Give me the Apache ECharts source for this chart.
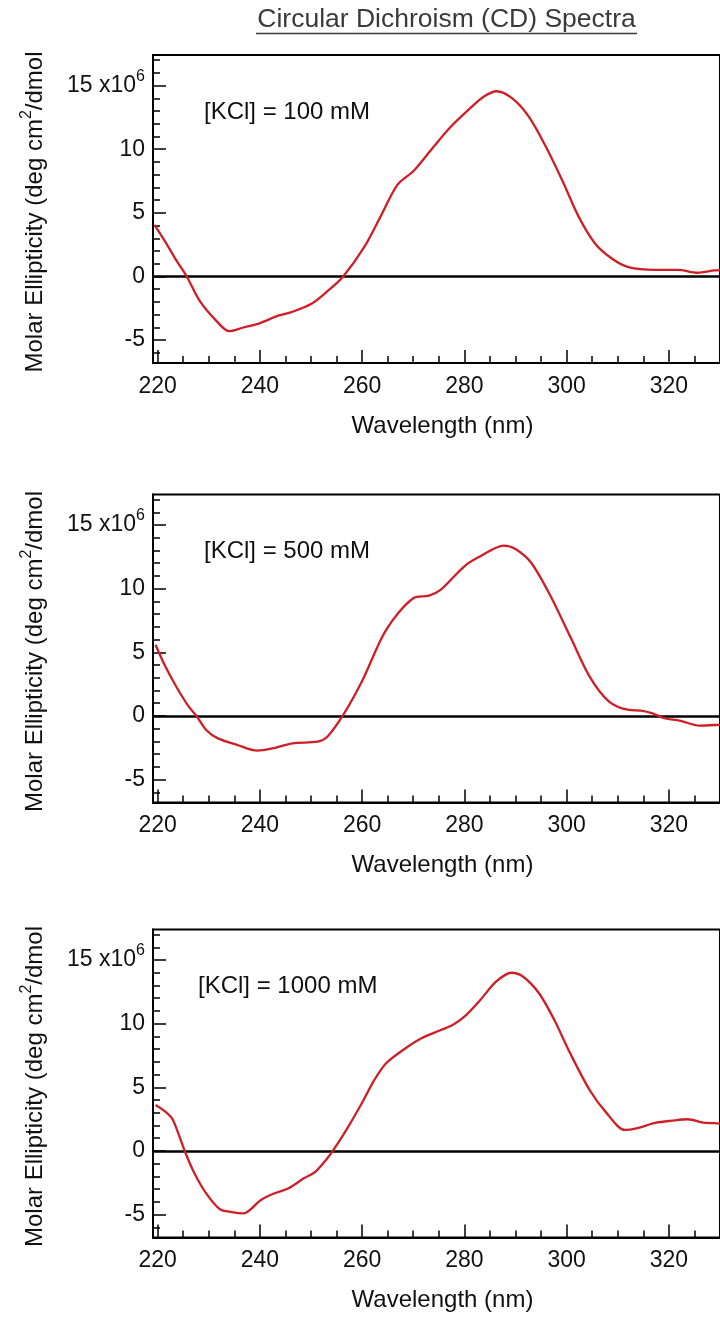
<!DOCTYPE html>
<html>
<head>
<meta charset="utf-8">
<script src="https://cdn.jsdelivr.net/npm/echarts@6/dist/echarts.min.js"></script>
<style>
html,body{margin:0;padding:0;background:#fff;}
#c{width:720px;height:1317px;}
</style>
</head>
<body>
<div id="c"></div>
<script>
// ---------- data ----------
const panelLabels = ['[KCl] = 100 mM', '[KCl] = 500 mM', '[KCl] = 1000 mM'];

const wl1 = [219.4,221.7,223.6,225.7,228.2,231.4,234.0,236.6,239.8,243.7,246.2,250.1,253.4,256.3,260.4,263.6,266.9,270.1,273.4,277.2,281.1,283.7,286.3,289.5,292.7,296.0,299.2,302.4,305.6,308.9,312.1,317.3,321.8,325.6,328.9,330.0];
const cd1 = [4.06,2.6,1.3,0.0,-1.9,-3.45,-4.3,-4.03,-3.7,-3.06,-2.8,-2.15,-1.1,0.0,2.3,4.7,7.2,8.3,9.9,11.7,13.2,14.1,14.55,13.95,12.5,10.15,7.5,4.66,2.57,1.39,0.73,0.52,0.52,0.29,0.47,0.5];

const wl2 = [219.6,221.5,223.8,226.1,227.6,229.5,231.8,235.6,239.5,242.5,246.4,251.3,253.2,256.3,260.1,264.7,270.1,273.1,275.4,280.0,283.1,287.7,290.0,293.1,296.9,300.7,304.5,308.3,312.2,314.5,316.8,319.1,322.1,326.0,328.9,330.0];
const cd2 = [5.6,3.9,2.2,0.73,0.0,-1.1,-1.76,-2.28,-2.73,-2.55,-2.15,-2.02,-1.63,0.08,2.83,6.77,9.27,9.45,9.92,11.76,12.54,13.39,13.12,12.02,9.39,6.24,3.09,1.13,0.47,0.42,0.21,-0.18,-0.37,-0.76,-0.71,-0.7];

const wl3 = [219.6,221.5,223.0,225.3,227.2,229.5,232.2,234.5,236.8,240.2,242.5,245.6,248.6,250.9,253.2,254.4,257.1,260.1,262.4,264.7,268.5,271.6,275.4,277.7,280.0,283.1,286.2,289.2,291.5,294.6,297.6,300.7,304.5,307.6,311.4,313.7,317.5,320.6,323.7,326.7,328.9,330.0];
const cd3 = [3.61,3.09,2.44,0.0,-1.75,-3.33,-4.58,-4.8,-4.9,-3.85,-3.38,-2.93,-2.15,-1.62,-0.57,0.08,1.78,3.87,5.58,6.89,8.07,8.85,9.5,9.9,10.55,11.86,13.3,14.0,13.69,12.39,10.29,7.67,4.79,3.09,1.65,1.78,2.22,2.38,2.49,2.22,2.18,2.15];

const xMajorTicks = [220,240,260,280,300,320];
const xMinorTicks = [220,225,230,235,240,245,250,255,260,265,270,275,280,285,290,295,300,305,310,315,320,325,330];
const yMajorTicks = [-5,0,5,10,15];
const yMinorTicks = [-6,-5,-4,-3,-2,-1,0,1,2,3,4,5,6,7,8,9,10,11,12,13,14,15,16,17];

const series = [[wl1,cd1],[wl2,cd2],[wl3,cd3]];

// ---------- layout ----------
const X_MIN = 219.1, X_MAX = 330, Y_MIN = -6.8, Y_MAX = 17.4;
const gridTops = [55, 494.5, 929.5];
const GRID_LEFT = 153, GRID_W = 572.8, GRID_H = 308;
const FONT = '"Liberation Sans", Arial, sans-serif';
const TICK_FS = 23, NAME_FS = 24;

const chart = echarts.init(document.getElementById('c'), null, {renderer:'canvas'});

const grids = [], xAxes = [], yAxes = [], ser = [], graphics = [];
gridTops.forEach((top, i) => {
  grids.push({left: GRID_LEFT, top: top, width: GRID_W, height: GRID_H, show: true,
    borderColor: '#000', borderWidth: 2, backgroundColor: 'transparent'});
  // main x axis
  xAxes.push({gridIndex: i, type: 'value', min: X_MIN, max: X_MAX, position: 'bottom',
    axisLine: {show: true, onZero: false, lineStyle: {color: '#000', width: 2}},
    axisTick: {show: true, inside: true, length: 13, customValues: xMajorTicks, lineStyle: {color: '#000', width: 1.5}},
    axisLabel: {show: true, customValues: xMajorTicks, fontSize: TICK_FS, color: '#111', margin: 12, fontFamily: FONT},
    splitLine: {show: false},
    name: 'Wavelength (nm)', nameLocation: 'middle', nameGap: 51,
    nameTextStyle: {fontSize: NAME_FS, color: '#111', fontFamily: FONT, padding: [0, 0, 0, 12]}
  });
  // minor x ticks
  xAxes.push({gridIndex: i, type: 'value', min: X_MIN, max: X_MAX, position: 'bottom',
    axisLine: {show: false, onZero: false},
    axisTick: {show: true, inside: true, length: 7, customValues: xMinorTicks, lineStyle: {color: '#000', width: 1.5}},
    axisLabel: {show: false}, splitLine: {show: false}
  });
  // main y axis
  yAxes.push({gridIndex: i, type: 'value', min: Y_MIN, max: Y_MAX, position: 'left',
    axisLine: {show: true, onZero: false, lineStyle: {color: '#000', width: 2}},
    axisTick: {show: true, inside: true, length: 13, customValues: yMajorTicks, lineStyle: {color: '#000', width: 1.5}},
    axisLabel: {show: true, customValues: yMajorTicks, fontSize: TICK_FS, color: '#111', margin: 8, fontFamily: FONT,
      formatter: v => v === 15 ? '{n|15 x10}{sup|6}' : String(v),
      rich: {n: {fontSize: TICK_FS, color: '#111', fontFamily: FONT},
             sup: {fontSize: 16, color: '#111', fontFamily: FONT, verticalAlign: 'top', lineHeight: 34}}},
    splitLine: {show: false}
  });
  // minor y ticks
  yAxes.push({gridIndex: i, type: 'value', min: Y_MIN, max: Y_MAX, position: 'left',
    axisLine: {show: false, onZero: false},
    axisTick: {show: true, inside: true, length: 7, customValues: yMinorTicks, lineStyle: {color: '#000', width: 1.5}},
    axisLabel: {show: false}, splitLine: {show: false}
  });

  const [wl, cd] = series[i];
  ser.push({type: 'line', xAxisIndex: 2*i, yAxisIndex: 2*i,
    data: wl.map((w, k) => [w, cd[k]]),
    showSymbol: false, smooth: 0.3, clip: true,
    lineStyle: {color: '#cf1f26', width: 2.3},
    z: 3,
    markLine: {silent: true, symbol: ['none','none'], label: {show: false},
      lineStyle: {color: '#000', width: 2.5, type: 'solid'},
      data: [{yAxis: 0}], z: 2}
  });

  // panel label
  graphics.push({type: 'text', left: (i === 2 ? 198 : 204), top: top + 45,
    style: {text: panelLabels[i], font: '24px ' + FONT, fill: '#111'}});
  // y axis title
  graphics.push({type: 'text', x: 35, y: top + GRID_H/2 + 3, rotation: Math.PI/2,
    style: {text: '{t|Molar Ellipticity (deg cm}{s|2}{t|/dmol}',
      align: 'center', verticalAlign: 'middle', textAlign: 'center', textVerticalAlign: 'middle',
      rich: {t: {fontSize: NAME_FS, fill: '#111', fontFamily: FONT, lineHeight: 32},
             s: {fontSize: 16, fill: '#111', fontFamily: FONT, verticalAlign: 'top', lineHeight: 32}}}});
});

// main title with underline
graphics.push({type: 'text', x: 446.5, y: 20,
  style: {text: 'Circular Dichroism (CD) Spectra', font: '26.5px ' + FONT, fill: '#3a3a3a',
    align: 'center', verticalAlign: 'middle', textAlign: 'center', textVerticalAlign: 'middle'}});
graphics.push({type: 'line', shape: {x1: 256, y1: 33.5, x2: 637, y2: 33.5},
  style: {stroke: '#3a3a3a', lineWidth: 1.5}});

chart.setOption({
  backgroundColor: '#fff',
  animation: false,
  grid: grids,
  xAxis: xAxes,
  yAxis: yAxes,
  series: ser,
  graphic: graphics
});
</script>
</body>
</html>
